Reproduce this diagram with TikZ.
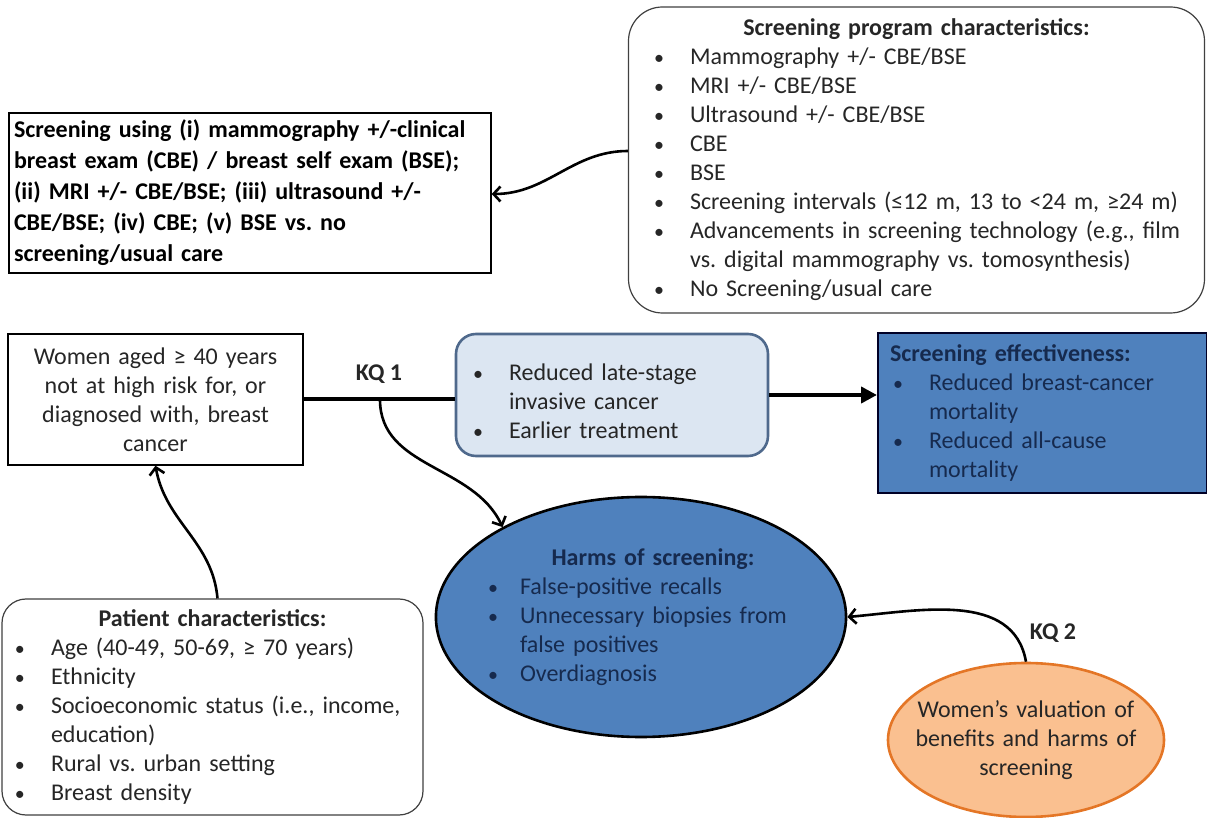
\documentclass[tikz,border=0pt]{standalone}
\usepackage{fontspec}
\setmainfont{Carlito}
\usetikzlibrary{arrows.meta,shapes.geometric}

\definecolor{inktext}{RGB}{38,38,38}
\definecolor{paleblue}{RGB}{220,230,242}
\definecolor{blueframe}{RGB}{79,105,140}
\definecolor{midblue}{RGB}{79,129,189}
\definecolor{navytext}{RGB}{22,42,78}
\definecolor{peach}{RGB}{250,192,144}
\definecolor{orangeframe}{RGB}{228,118,38}

% bullet item with hanging indent
\newcommand{\itm}[1][19.5pt]{\par\noindent\hangindent=#1\hangafter=1%
  \makebox[#1][l]{\hspace{1.5pt}{\fontsize{10}{10}\selectfont\textbullet}}\ignorespaces}
% line break inside an item
\newcommand{\nl}{\hfil\break}

\begin{document}
\begin{tikzpicture}[x=0.5pt,y=-0.5pt,line width=1pt,>={Straight Barb[length=3.5pt,width=7.5pt]},
  every node/.style={font=\fontsize{12}{14.5}\selectfont\frenchspacing,text=inktext,inner sep=0pt},
  squarebox/.style={draw=black,line width=0.7pt,fill=white,rectangle},
  softbox/.style={draw=black!75,line width=0.6pt,fill=white,rounded corners=#1},
  outcomebox/.style={draw=blueframe,line width=1.3pt,fill=paleblue,rounded corners=10pt},
  effectbox/.style={draw=black!85!blue,line width=1pt,fill=midblue,text=navytext},
  harmshape/.style={ellipse,draw=black,line width=1.3pt,fill=midblue,text=navytext},
  valshape/.style={ellipse,draw=orangeframe,line width=1.3pt,fill=peach},
  kqlabel/.style={font=\fontsize{12}{14.5}\selectfont\bfseries},
  mainline/.style={line width=2pt},
  curvearrow/.style={->,line width=1.3pt}]
  \useasboundingbox (0,0) rectangle (1207,818);

  % screening program box (top right)
  \node[softbox=17pt,minimum width=288pt,minimum height=153pt,text width=265.5pt,align=left]
    (prog) at (916.5,160) {{\centering\bfseries Screening program characteristics:\par}
    \itm Mammography +/- CBE/BSE
    \itm MRI +/- CBE/BSE
    \itm Ultrasound +/- CBE/BSE
    \itm CBE
    \itm BSE
    \itm Screening intervals (≤12 m, 13 to <24 m, ≥24 m)
    \itm Advancements in screening technology (e.g., film\nl vs. digital mammography vs. tomosynthesis)
    \itm No Screening/usual care\par};

  % interventions compared
  \node[squarebox,minimum width=241pt,minimum height=80pt,text width=236pt,align=left,
    font=\fontsize{12}{15.5}\selectfont\frenchspacing\bfseries,text=black]
    (using) at (250,193) {Screening using (i) mammography +/-clinical\\
    breast exam (CBE) / breast self exam (BSE);\\
    (ii) MRI +/- CBE/BSE; (iii) ultrasound +/-\\
    CBE/BSE; (iv) CBE; (v) BSE vs. no\\
    screening/usual care};

  % population
  \node[squarebox,minimum width=147.5pt,minimum height=65.5pt,text width=135pt,align=center]
    (women) at (155.5,399.5) {Women aged ≥ 40 years\\ not at high risk for, or\\
    diagnosed with, breast\\ cancer};

  % intermediate outcomes
  \node[outcomebox,minimum width=156pt,minimum height=61pt,text width=142pt,align=left]
    (reduced) at (612,395) {\itm Reduced late-stage\nl invasive cancer
    \itm Earlier treatment\par};

  % health outcomes
  \node[effectbox,minimum width=164.5pt,minimum height=80pt,text width=152.5pt,align=left]
    (effect) at (1042.5,413) {\textbf{Screening effectiveness:}
    \itm Reduced breast-cancer\nl mortality
    \itm Reduced all-cause\nl mortality\par};

  % harms
  \node[harmshape,minimum width=205pt,minimum height=120pt,text width=156pt,align=left,
    inner xsep=-5.5pt] (harms) at (641,617) {{\centering\bfseries\hspace{12pt}Harms of screening:\par}
    \itm[17.5pt] False-positive recalls
    \itm[17.5pt] Unnecessary biopsies from\nl false positives
    \itm[17.5pt] Overdiagnosis\par};

  % valuation
  \node[valshape,minimum width=138pt,minimum height=77pt,text width=125pt,align=center,
    inner xsep=-14pt] (valuation) at (1026,740) {Women’s valuation of\\
    benefits and harms of\\ screening};

  % patient characteristics
  \node[softbox=12pt,minimum width=210.5pt,minimum height=108pt,text width=200.5pt,align=left]
    (patient) at (212.5,707) {{\centering\bfseries Patient characteristics:\par}
    \itm Age (40-49, 50-69, ≥ 70 years)
    \itm Ethnicity
    \itm Socioeconomic status (i.e., income,\nl education)
    \itm Rural vs. urban setting
    \itm Breast density\par};

  % key questions
  \node[kqlabel] (kqone) at (379,374) {KQ 1};
  \node[kqlabel] (kqtwo) at (1053,633) {KQ 2};

  % connectors
  \coordinate (fork) at (380,399.5);
  \draw[mainline] (women.east) -- (women.east -| reduced.west);
  \draw[mainline,-{Triangle[length=8pt,width=8pt]}] (reduced.east) -- (reduced.east -| effect.west);
  \draw[curvearrow] (fork) to[out=-90,in=115] (harms.147);
  \draw[curvearrow] ([yshift=4.5pt]prog.west) to[out=180,in=0] ([yshift=-0.5pt]using.east);
  \draw[curvearrow] (valuation.north) to[out=100,in=5] (harms.east);
  \draw[curvearrow] ([xshift=2.5pt]patient.north) to[out=95,in=-80] (women.south);
\end{tikzpicture}
\end{document}
